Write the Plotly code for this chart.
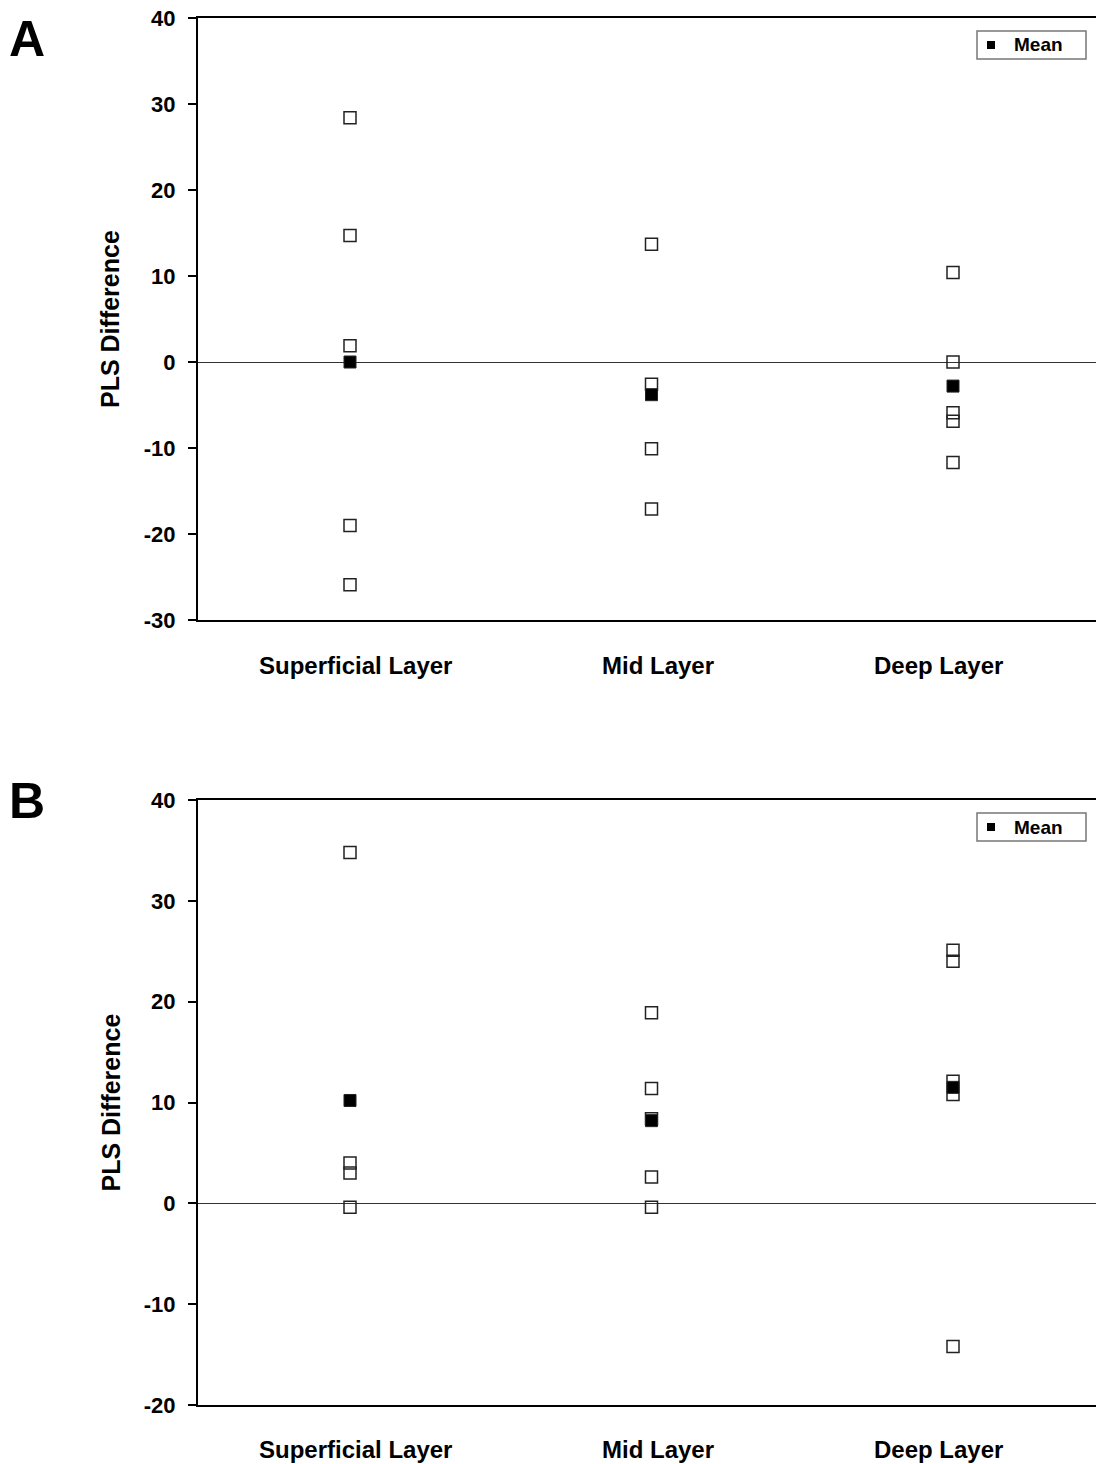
import plotly.graph_objects as go

categories = ["Superficial Layer", "Mid Layer", "Deep Layer"]

# Panel A: individual PLS differences per layer
a_superficial = [28.4, 14.7, 1.9, -19.0, -25.9]
a_mid = [13.7, -2.6, -10.1, -17.1]
a_deep = [10.4, 0.0, -5.9, -6.9, -11.7]
a_means = [0.0, -3.8, -2.8]

# Panel B
b_superficial = [34.8, 4.0, 3.0, -0.4]
b_mid = [18.9, 11.4, 8.4, 2.6, -0.4]
b_deep = [25.1, 24.0, 12.1, 10.8, -14.2]
b_means = [10.2, 8.2, 11.5]

a_yticks = [40, 30, 20, 10, 0, -10, -20, -30]
b_yticks = [40, 30, 20, 10, 0, -10, -20]

FONT = "Liberation Sans, Arial, sans-serif"

fig = go.Figure()

def add_panel(groups, means, xa, ya):
    for i, vals in enumerate(groups):
        fig.add_trace(go.Scatter(
            x=[i] * len(vals), y=vals, mode="markers",
            marker=dict(symbol="square-open", size=12, color="#222",
                        line=dict(width=1.5, color="#222")),
            showlegend=False, xaxis=xa, yaxis=ya, hoverinfo="y"))
    fig.add_trace(go.Scatter(
        x=list(range(len(means))), y=means, mode="markers", name="Mean",
        marker=dict(symbol="square", size=12, color="black",
                    line=dict(width=1, color="#222")),
        showlegend=False, xaxis=xa, yaxis=ya))

add_panel([a_superficial, a_mid, a_deep], a_means, "x", "y")
add_panel([b_superficial, b_mid, b_deep], b_means, "x2", "y2")

H = 1464.0
W = 1096.0
xdom = [198 / W, 1.0]
a_dom = [1 - 620 / H, 1 - 18 / H]
b_dom = [1 - 1405 / H, 1 - 800 / H]
xrange = [1 - 152 / 301.5 - 1, 3 + 143 / 301.5 - 1]

xcommon = dict(range=xrange, showticklabels=False, ticks="", showgrid=False,
               zeroline=False, showline=True, linecolor="black", linewidth=2,
               mirror=True, domain=xdom, automargin=False)

def ycommon(rng, ticks, dom, anchor):
    return dict(range=rng, tickvals=ticks, ticktext=[str(t) for t in ticks],
                ticks="outside", ticklen=8, tickwidth=2, tickcolor="black",
                ticklabelstandoff=8,
                showline=True, linecolor="black", linewidth=2,
                showgrid=False, zeroline=True, zerolinecolor="#333",
                zerolinewidth=1.2, domain=dom, anchor=anchor, automargin=False,
                tickfont=dict(family=FONT, size=22, color="black", weight="bold"))

fig.update_layout(
    width=1096, height=1464,
    margin=dict(l=0, r=0, t=0, b=0, pad=0, autoexpand=False),
    paper_bgcolor="white", plot_bgcolor="white",
    font=dict(family=FONT, color="black"),
    showlegend=False,
    xaxis=dict(**xcommon, anchor="y"),
    xaxis2=dict(**xcommon, anchor="y2"),
    yaxis=ycommon([-30, 40], a_yticks, a_dom, "x"),
    yaxis2=ycommon([-20, 40], b_yticks, b_dom, "x2"),
)

# Y-axis titles
for dom in (a_dom, b_dom):
    fig.add_annotation(x=110 / W, y=(dom[0] + dom[1]) / 2, xref="paper", yref="paper",
                       text="<b>PLS Difference</b>", textangle=-90, showarrow=False,
                       xanchor="center", yanchor="middle",
                       font=dict(family=FONT, size=25, color="black"))

# Category labels
shifts = [5, 6, -15]
for xa, yv in (("x", 1 - 665 / H), ("x2", 1 - 1449 / H)):
    for i, c in enumerate(categories):
        fig.add_annotation(x=i, y=yv, xref=xa, yref="paper", text="<b>%s</b>" % c,
                           showarrow=False, xshift=shifts[i],
                           xanchor="center", yanchor="middle",
                           font=dict(family=FONT, size=24, color="black"))

# Panel letters
for letter, yv in (("A", 1 - 39 / H), ("B", 1 - 801 / H)):
    fig.add_annotation(x=27 / W, y=yv, xref="paper", yref="paper",
                       text="<b>%s</b>" % letter, showarrow=False,
                       xanchor="center", yanchor="middle",
                       font=dict(family=FONT, size=50, color="black"))

# Legend boxes ("Mean")
for top in (31, 813):
    fig.add_shape(type="rect", xref="paper", yref="paper",
                  x0=977 / W, x1=1086 / W, y0=1 - (top + 28) / H, y1=1 - top / H,
                  line=dict(color="#777", width=1.5), fillcolor="white")
    cy = top + 14
    fig.add_shape(type="rect", xref="paper", yref="paper",
                  x0=987 / W, x1=995 / W, y0=1 - (cy + 4) / H, y1=1 - (cy - 4) / H,
                  line=dict(color="black", width=0), fillcolor="black")
    fig.add_annotation(x=1012 / W, y=1 - cy / H, xref="paper", yref="paper",
                       text="<b>Mean</b>", showarrow=False,
                       xanchor="left", yanchor="middle",
                       font=dict(family=FONT, size=19, color="black"))

fig.write_html("out.html", config={"displayModeBar": False},
               post_script="document.body.style.margin='0';")
